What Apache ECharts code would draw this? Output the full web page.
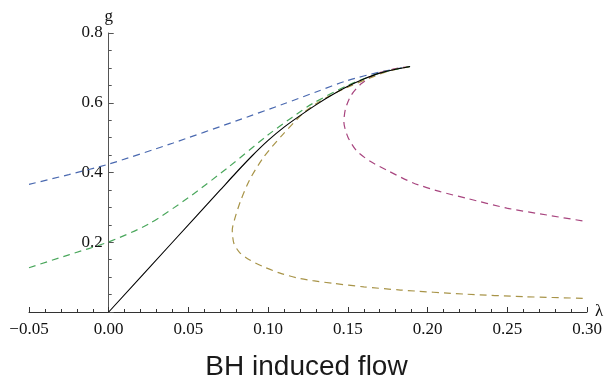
<!DOCTYPE html>
<html>
<head>
<meta charset="utf-8">
<script src="https://cdn.jsdelivr.net/npm/echarts@6/dist/echarts.min.js"></script>
<style>html,body{margin:0;padding:0;background:#fff}#c{width:613px;height:378px}</style>
</head>
<body>
<div id="c"></div>
<script>
var titleText = 'BH induced flow';
var xTicks = [-0.05, 0.00, 0.05, 0.10, 0.15, 0.20, 0.25, 0.30];
var yTicks = [0.2, 0.4, 0.6, 0.8];

var solidCurve = [[0,0],[0.04,0.20],[0.07,0.35],[0.08,0.40],[0.09,0.448],[0.10,0.492],[0.11,0.530],[0.12,0.563],[0.13,0.594],[0.14,0.622],[0.15,0.647],[0.16,0.668],[0.17,0.685],[0.18,0.696],[0.189,0.704]];
var blueCurve = [[-0.05,0.366],[-0.025,0.394],[0,0.424],[0.04,0.484],[0.08,0.548],[0.11,0.597],[0.13,0.631],[0.15,0.664],[0.17,0.688],[0.189,0.704]];
var greenCurve = [[-0.05,0.127],[-0.025,0.164],[0,0.201],[0.025,0.252],[0.05,0.328],[0.075,0.415],[0.10,0.508],[0.115,0.558],[0.128,0.598],[0.15,0.65],[0.17,0.685],[0.189,0.704]];
var oliveCurve = [[0.189,0.704],[0.175,0.69],[0.16,0.664],[0.149,0.643],[0.139,0.621],[0.130,0.597],[0.122,0.57],[0.109,0.508],[0.097,0.443],[0.0885,0.38],[0.083,0.322],[0.0795,0.274],[0.0775,0.235],[0.0785,0.197],[0.082,0.171],[0.0885,0.149],[0.097,0.130],[0.107,0.112],[0.118,0.098],[0.128,0.090],[0.141,0.082],[0.16,0.072],[0.183,0.063],[0.2245,0.051],[0.26,0.044],[0.30,0.039]];
var magentaCurve = [[0.189,0.704],[0.179,0.697],[0.168,0.683],[0.1585,0.655],[0.152,0.621],[0.1485,0.582],[0.1475,0.545],[0.150,0.502],[0.1555,0.462],[0.164,0.432],[0.176,0.403],[0.191,0.37],[0.208,0.345],[0.2245,0.326],[0.2497,0.298],[0.275,0.278],[0.30,0.259]];

var chart = echarts.init(document.getElementById('c'));
var serifFont = '"Liberation Serif", "Times New Roman", serif';
var gridLeft = 29, gridRight = 26;
var plotW = 613 - gridLeft - gridRight;
var yAxisOffset = -plotW * (0 - xTicks[0]) / (xTicks[xTicks.length-1] - xTicks[0]);
function dashed(data, color) {
  return {type:'line', data:data, showSymbol:false, smooth:0.25, z:2,
    lineStyle:{color:color, width:1.2, type:[7,5]}};
}
chart.setOption({
  animation:false,
  title:{text:titleText, left:'center', top:348,
    textStyle:{fontFamily:'"Liberation Sans", Arial, sans-serif', fontSize:28, fontWeight:'normal', color:'#1a1a1a'}},
  grid:{left:gridLeft, right:gridRight, top:33, bottom:66, containLabel:false},
  xAxis:{type:'value', min:xTicks[0], max:xTicks[xTicks.length-1], interval:0.05,
    name:'λ', nameLocation:'end', nameGap:8,
    nameTextStyle:{fontFamily:serifFont, fontSize:17, color:'#111', verticalAlign:'middle'},
    axisLine:{onZero:true, lineStyle:{color:'#333', width:1}},
    axisTick:{inside:true, length:5, lineStyle:{color:'#333'}},
    minorTick:{show:true, splitNumber:5, length:3, lineStyle:{color:'#333'}},
    splitLine:{show:false},
    axisLabel:{margin:9, fontFamily:serifFont, fontSize:17, color:'#111',
      formatter:function(v){var s=Math.abs(v).toFixed(2); return (v< -1e-9?'\u2212':'')+s;}}},
  yAxis:{type:'value', min:0, max:yTicks[yTicks.length-1], interval:0.2,
    offset:yAxisOffset,
    name:'g', nameLocation:'end', nameGap:8,
    nameTextStyle:{fontFamily:serifFont, fontSize:17, color:'#111'},
    axisLine:{onZero:false, lineStyle:{color:'#555', width:1}},
    axisTick:{inside:true, length:5, lineStyle:{color:'#555'}},
    minorTick:{show:true, splitNumber:4, length:3, lineStyle:{color:'#555'}},
    splitLine:{show:false},
    axisLabel:{margin:6, fontFamily:serifFont, fontSize:17, color:'#111',
      formatter:function(v){return yTicks.indexOf(Math.round(v*10)/10)>=0? v.toFixed(1):'';}}},
  series:[
    dashed(blueCurve,'#4a69b0'),
    dashed(magentaCurve,'#a8457f'),
    dashed(oliveCurve,'#a89448'),
    dashed(greenCurve,'#4aa75c'),
    {type:'line', data:solidCurve, showSymbol:false, smooth:0.25, z:3,
      lineStyle:{color:'#000', width:1.1, type:'solid'}}
  ]
});
</script>
</body>
</html>
